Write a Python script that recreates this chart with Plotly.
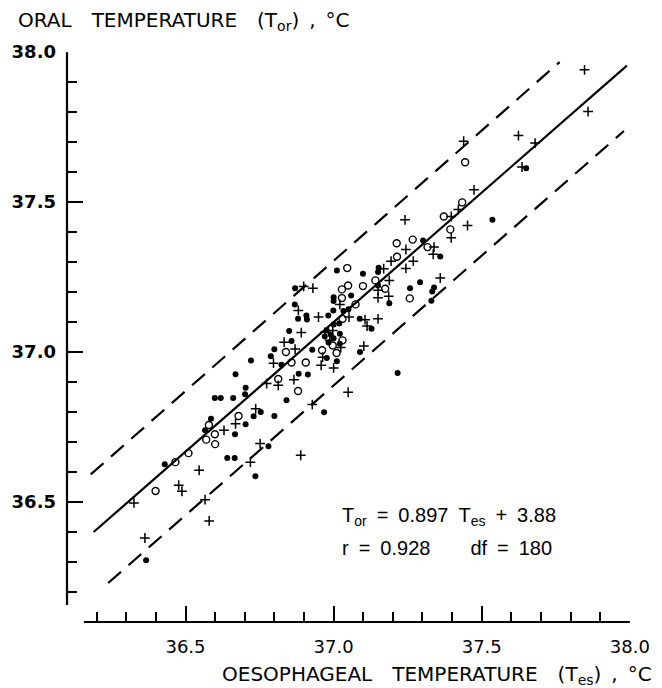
import plotly.graph_objects as go

# ---------------- data ----------------
filled_x = [36.869, 36.908, 36.910, 36.880, 36.982, 36.850, 36.858, 36.999, 36.788, 36.800,
            36.824, 36.721, 36.669, 36.882, 36.913, 36.928, 36.703, 36.701, 36.599, 36.619,
            36.661, 36.841, 36.754, 36.730, 36.800, 36.586, 36.566, 36.703, 36.667, 36.968,
            36.780, 36.641, 36.666, 36.736, 36.430, 37.089, 36.977, 37.536, 37.302, 37.360,
            37.292, 37.258, 37.339, 37.333, 37.330, 37.188, 37.011, 36.870, 37.099, 37.152,
            37.150, 37.150, 37.059, 37.000, 37.000, 37.033, 37.050, 37.088, 37.128, 37.019,
            37.000, 37.021, 37.021, 37.216, 37.011, 37.650, 36.367, 36.977, 36.990, 37.000,
            36.983, 36.970]
filled_y = [37.159, 37.122, 37.109, 37.111, 37.122, 37.070, 37.037, 37.139, 36.986, 37.009,
            36.958, 36.972, 36.926, 36.928, 36.925, 37.008, 36.881, 36.859, 36.847, 36.847,
            36.847, 36.839, 36.800, 36.786, 36.787, 36.778, 36.739, 36.759, 36.726, 36.799,
            36.686, 36.647, 36.647, 36.586, 36.626, 37.000, 36.980, 37.441, 37.372, 37.319,
            37.233, 37.213, 37.215, 37.202, 37.171, 37.163, 37.272, 37.213, 37.261, 37.281,
            37.267, 37.222, 37.189, 37.183, 37.170, 37.137, 37.143, 37.111, 37.078, 37.095,
            37.092, 37.061, 37.028, 36.930, 36.969, 37.613, 36.306, 37.072, 37.059, 37.046,
            37.032, 37.052]

open_x = [37.074, 37.030, 36.839, 36.858, 36.906, 36.961, 37.010, 37.030, 36.997, 36.813,
          36.880, 36.679, 36.579, 36.599, 36.600, 36.570, 36.510, 36.466, 37.434, 37.372,
          37.394, 37.213, 37.267, 37.317, 37.214, 37.046, 37.049, 37.028, 37.099, 37.141,
          37.174, 37.257, 37.028, 37.444, 36.399]
open_y = [37.159, 37.111, 37.000, 36.965, 36.965, 37.006, 36.997, 37.039, 37.022, 36.910,
          36.870, 36.787, 36.757, 36.726, 36.693, 36.708, 36.663, 36.633, 37.499, 37.452,
          37.409, 37.363, 37.375, 37.350, 37.318, 37.280, 37.222, 37.209, 37.220, 37.239,
          37.211, 37.179, 37.180, 37.633, 36.537]

cross_x = [36.881, 36.949, 37.052, 36.891, 36.833, 36.870, 36.797, 37.000, 36.866, 36.813,
           36.774, 37.049, 36.928, 36.737, 36.669, 36.630, 36.752, 36.719, 36.889, 36.546,
           36.477, 36.488, 36.566, 37.474, 37.397, 37.421, 37.452, 37.397, 37.241, 37.339,
           37.336, 37.244, 37.269, 37.244, 37.194, 37.360, 37.169, 37.188, 37.150, 37.150,
           37.186, 36.899, 36.930, 37.021, 37.106, 37.150, 37.113, 37.102, 37.024, 36.963,
           36.958, 37.847, 37.859, 37.624, 37.439, 37.680, 37.636, 36.326, 36.580, 36.363,
           36.970, 36.997, 36.987]
cross_y = [37.139, 37.117, 37.117, 37.065, 37.033, 37.010, 36.963, 36.947, 36.908, 36.889,
           36.895, 36.866, 36.825, 36.811, 36.761, 36.739, 36.695, 36.633, 36.656, 36.606,
           36.556, 36.536, 36.508, 37.541, 37.452, 37.475, 37.422, 37.381, 37.441, 37.350,
           37.326, 37.342, 37.303, 37.279, 37.303, 37.247, 37.278, 37.239, 37.206, 37.181,
           37.186, 37.219, 37.213, 37.159, 37.108, 37.111, 37.087, 37.020, 37.015, 36.983,
           36.956, 37.941, 37.802, 37.722, 37.703, 37.697, 37.617, 36.497, 36.437, 36.380,
           37.066, 37.072, 37.039]

fit_x = [36.19, 37.99]
fit_y = [36.40, 37.955]
upper_x = [36.18, 37.763]
upper_y = [36.592, 37.967]
lower_x = [36.239, 37.98]
lower_y = [36.23, 37.737]

major_ticks = [36.5, 37.0, 37.5, 38.0]
major_labels = ["36.5", "37.0", "37.5", "38.0"]
minor_ticks = [36.2, 36.3, 36.4, 36.6, 36.7, 36.8, 36.9, 37.1, 37.2, 37.3, 37.4,
               37.6, 37.7, 37.8, 37.9]
axis_start = 36.157
axis_end = 38.0

eq_line1 = "T<sub>or</sub>\u2002=\u20020.897\u2002T<sub>es</sub>\u2002+\u20023.88"
eq_line2 = "r\u2002=\u20020.928\u2002\u2002\u2002\u2002df\u2002=\u2002180"
y_title = "ORAL\u2002\u2002TEMPERATURE\u2002\u2002(T<sub>or</sub>)\u2002,\u2002°C"
x_title = "OESOPHAGEAL\u2002\u2002TEMPERATURE\u2002\u2002(T<sub>es</sub>)\u2002,\u2002°C"

# ---------------- figure ----------------
fig = go.Figure()
fig.add_trace(go.Scatter(x=fit_x, y=fit_y, mode="lines",
                         line=dict(color="black", width=2.2), hoverinfo="skip"))
for lx, ly in [(upper_x, upper_y), (lower_x, lower_y)]:
    fig.add_trace(go.Scatter(x=lx, y=ly, mode="lines",
                             line=dict(color="black", width=2.2, dash="17px,10px"),
                             hoverinfo="skip"))

fig.add_trace(go.Scatter(x=filled_x, y=filled_y, mode="markers",
                         marker=dict(symbol="circle", size=6, color="black",
                                     line=dict(width=0))))
fig.add_trace(go.Scatter(x=open_x, y=open_y, mode="markers",
                         marker=dict(symbol="circle-open", size=7, color="black",
                                     line=dict(width=1.4, color="black"))))
fig.add_trace(go.Scatter(x=cross_x, y=cross_y, mode="markers",
                         marker=dict(symbol="cross-thin", size=7, color="black",
                                     line=dict(width=1.5, color="black"))))

W, H = 662, 688
ML, MR, MT, MB = 61, 31, 52, 66
pw, ph = W - ML - MR, H - MT - MB

def px(xp):
    return (xp - ML) / pw

def py(yp):
    return (H - MB - yp) / ph

axis_common = dict(
    showgrid=False, zeroline=False, showline=False,
    ticks="inside", ticklen=16, tickwidth=2, tickcolor="black",
    tickmode="array", tickvals=major_ticks, ticktext=major_labels,
    minor=dict(tickmode="array", tickvals=minor_ticks, ticks="inside",
               ticklen=10, tickwidth=1.6, tickcolor="black", showgrid=False),
)

fig.update_layout(
    width=W, height=H,
    margin=dict(l=ML, r=MR, t=MT, b=MB),
    paper_bgcolor="white", plot_bgcolor="white",
    showlegend=False,
    xaxis=dict(range=[36.1, 38.0005],
               tickfont=dict(family="DejaVu Sans", size=18, color="black"),
               ticklabelstandoff=12, **axis_common),
    yaxis=dict(range=[36.1, 38.0005],
               tickfont=dict(family="DejaVu Sans", size=18, color="black", weight="bold"),
               ticklabelstandoff=10, **axis_common),
    shapes=[
        dict(type="line", xref="x", yref="paper", x0=axis_start, x1=axis_end, y0=0, y1=0,
             line=dict(color="black", width=2.2)),
        dict(type="line", xref="paper", yref="y", x0=0, x1=0, y0=axis_start, y1=axis_end,
             line=dict(color="black", width=2.2)),
    ],
    annotations=[
        dict(text=y_title, xref="paper", yref="paper", x=px(9), y=py(21),
             xanchor="left", yanchor="middle", showarrow=False,
             font=dict(family="DejaVu Sans", size=20, color="black")),
        dict(text=x_title, xref="paper", yref="paper", x=px(655), y=py(675),
             xanchor="right", yanchor="middle", showarrow=False,
             font=dict(family="DejaVu Sans", size=20, color="black")),
        dict(text=eq_line1, xref="paper", yref="paper", x=px(337), y=py(516),
             xanchor="left", yanchor="middle", showarrow=False,
             font=dict(family="Liberation Sans", size=20, color="black")),
        dict(text=eq_line2, xref="paper", yref="paper", x=px(337), y=py(548),
             xanchor="left", yanchor="middle", showarrow=False,
             font=dict(family="Liberation Sans", size=20, color="black")),
    ],
)

fig.write_html("out.html")
